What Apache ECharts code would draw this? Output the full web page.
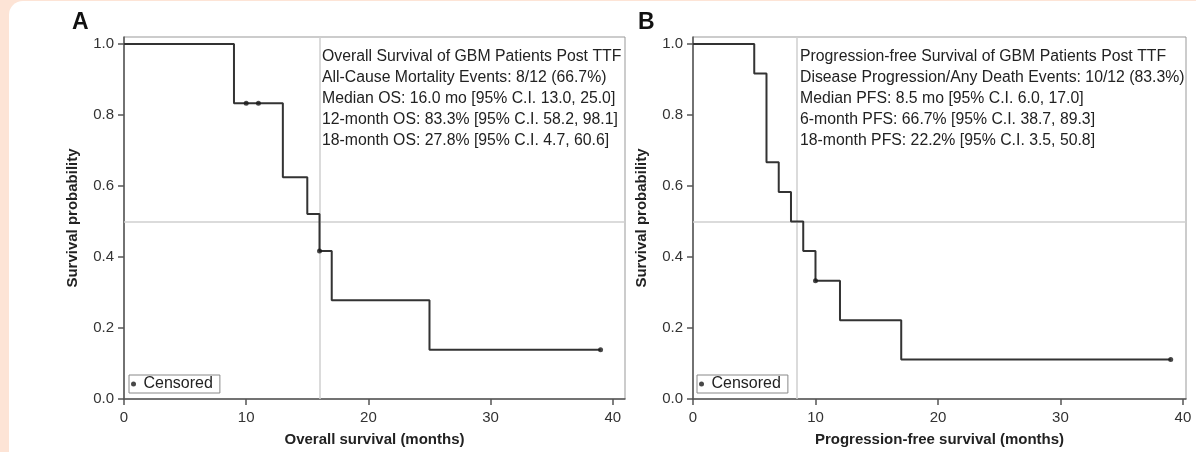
<!DOCTYPE html>
<html>
<head>
<meta charset="utf-8">
<script src="https://cdn.jsdelivr.net/npm/echarts@6/dist/echarts.min.js"></script>
<style>
  html, body { margin: 0; padding: 0; background: #fde4d6; }
  #card { position: absolute; left: 9px; top: 1px; width: 1187px; height: 451px; background: #fff; border-top-left-radius: 14px; }
  #drew { position: absolute; left: 0; top: 0; width: 1196px; height: 452px; }
</style>
</head>
<body>
<div id="card"></div>
<div id="drew"></div>
<script>
  // Panel A: overall survival (Kaplan-Meier steps)
  var osTimes = [0, 9, 13, 15, 16, 17, 25, 39];
  var osSurv = [1.0, 0.833, 0.625, 0.521, 0.417, 0.278, 0.139, 0.139];
  var osCensorTimes = [10, 11, 16, 39];
  var osCensorSurv = [0.833, 0.833, 0.417, 0.139];
  var osMedian = 16.0;

  // Panel B: progression-free survival
  var pfsTimes = [0, 5, 6, 7, 8, 9, 10, 12, 17, 39];
  var pfsSurv = [1.0, 0.917, 0.667, 0.583, 0.5, 0.417, 0.333, 0.222, 0.111, 0.111];
  var pfsCensorTimes = [10, 39];
  var pfsCensorSurv = [0.333, 0.111];
  var pfsMedian = 8.5;

  var halfLine = 0.5;
  var xTicks = [0, 10, 20, 30, 40];
  var yTicks = [0, 0.2, 0.4, 0.6, 0.8, 1.0];

  var osText = [
    'Overall Survival of GBM Patients Post TTF',
    'All-Cause Mortality Events: 8/12 (66.7%)',
    'Median OS: 16.0 mo [95% C.I. 13.0, 25.0]',
    '12-month OS: 83.3% [95% C.I. 58.2, 98.1]',
    '18-month OS: 27.8% [95% C.I. 4.7, 60.6]'
  ];
  var pfsText = [
    'Progression-free Survival of GBM Patients Post TTF',
    'Disease Progression/Any Death Events: 10/12 (83.3%)',
    'Median PFS: 8.5 mo [95% C.I. 6.0, 17.0]',
    '6-month PFS: 66.7% [95% C.I. 38.7, 89.3]',
    '18-month PFS: 22.2% [95% C.I. 3.5, 50.8]'
  ];

  function pairs(xs, ys) {
    return xs.map(function (x, i) { return [x, ys[i]]; });
  }

  var font = '"Liberation Sans", Arial, Helvetica, sans-serif';
  var axisColor = '#555';

  function xAxis(idx, max, name) {
    return {
      type: 'value', gridIndex: idx, min: 0, max: max,
      name: name, nameLocation: 'middle', nameGap: 33,
      nameTextStyle: { fontFamily: font, fontWeight: 'bold', fontSize: 15, color: '#222' },
      axisLine: { show: true, lineStyle: { color: axisColor, width: 1.5 } },
      axisTick: { show: true, length: 6, customValues: xTicks, lineStyle: { color: axisColor, width: 1.5 } },
      axisLabel: { customValues: xTicks, margin: 11, fontFamily: font, fontSize: 15, color: '#333' },
      splitLine: { show: false }
    };
  }
  function yAxis(idx) {
    return {
      type: 'value', gridIndex: idx, min: 0, max: 1.02,
      name: 'Survival probability', nameLocation: 'middle', nameGap: 44,
      nameTextStyle: { fontFamily: font, fontWeight: 'bold', fontSize: 15, color: '#222' },
      axisLine: { show: true, lineStyle: { color: axisColor, width: 1.5 } },
      axisTick: { show: true, length: 6, customValues: yTicks, lineStyle: { color: axisColor, width: 1.5 } },
      axisLabel: {
        customValues: yTicks, margin: 10, fontFamily: font, fontSize: 15, color: '#333',
        formatter: function (v) { return v.toFixed(1); }
      },
      splitLine: { show: false }
    };
  }
  function refSeries(idx, median) {
    return {
      type: 'line', xAxisIndex: idx, yAxisIndex: idx, data: [], z: 1, silent: true,
      markLine: {
        z: 1, silent: true, symbol: 'none', label: { show: false },
        lineStyle: { color: '#cfcfcf', type: 'solid', width: 1.5 },
        data: [{ xAxis: median }, { yAxis: halfLine }]
      }
    };
  }
  function kmSeries(idx, xs, ys) {
    return {
      type: 'line', xAxisIndex: idx, yAxisIndex: idx, step: 'end', z: 3,
      showSymbol: false, silent: true, data: pairs(xs, ys),
      lineStyle: { color: '#333', width: 2 }
    };
  }
  function censorSeries(idx, xs, ys) {
    return {
      type: 'scatter', name: 'Censored', xAxisIndex: idx, yAxisIndex: idx, z: 4,
      symbol: 'circle', symbolSize: 5, silent: true, data: pairs(xs, ys),
      itemStyle: { color: '#1a1a1a' }
    };
  }
  function legend(left) {
    return {
      data: ['Censored'], left: left, top: 375, orient: 'horizontal',
      icon: 'circle', itemWidth: 10, itemHeight: 5, itemGap: 0,
      padding: [1, 7, 1, 2], borderColor: '#888', borderWidth: 1,
      textStyle: { fontFamily: font, fontSize: 16, color: '#222' },
      selectedMode: false
    };
  }
  function textBlock(left, lines) {
    return {
      type: 'text', left: left, top: 46, silent: true,
      style: { text: lines.join('\n'), font: '15.8px ' + font, fill: '#222', lineHeight: 21 }
    };
  }

  var myChart = echarts.init(document.getElementById('drew'));
  var option = {
    animation: false,
    grid: [
      { left: 124, top: 37, width: 501, height: 362, show: true, borderColor: '#999', borderWidth: 1 },
      { left: 693, top: 37, width: 493, height: 362, show: true, borderColor: '#999', borderWidth: 1 }
    ],
    xAxis: [xAxis(0, 41, 'Overall survival (months)'), xAxis(1, 40.25, 'Progression-free survival (months)')],
    yAxis: [yAxis(0), yAxis(1)],
    legend: [legend(129), legend(697)],
    series: [
      refSeries(0, osMedian),
      kmSeries(0, osTimes, osSurv),
      censorSeries(0, osCensorTimes, osCensorSurv),
      refSeries(1, pfsMedian),
      kmSeries(1, pfsTimes, pfsSurv),
      censorSeries(1, pfsCensorTimes, pfsCensorSurv)
    ],
    graphic: [
      { type: 'text', left: 72, top: 11, style: { text: 'A', font: 'bold 23px ' + font, fill: '#111' } },
      { type: 'text', left: 638, top: 11, style: { text: 'B', font: 'bold 23px ' + font, fill: '#111' } },
      textBlock(322, osText),
      textBlock(800, pfsText)
    ]
  };
  myChart.setOption(option);
  window.addEventListener('resize', function () { myChart.resize(); });
</script>
</body>
</html>
